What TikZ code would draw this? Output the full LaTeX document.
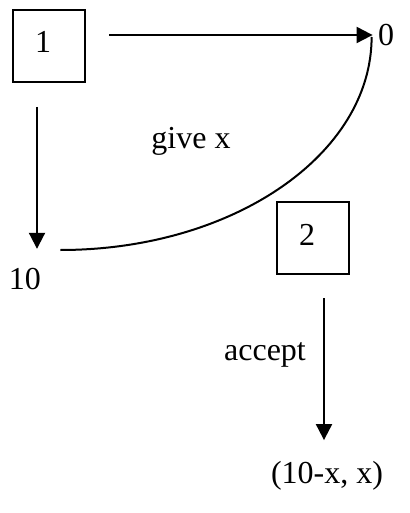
\documentclass[tikz,border=0pt]{standalone}
\usepackage{fontspec}
\setmainfont{Liberation Serif}
\usepackage{tikz}
\usetikzlibrary{arrows.meta,positioning,calc}
\definecolor{ink}{HTML}{000000}
\tikzset{
  >={Triangle[length=8pt,width=8pt]},
  every node/.style={font=\fontsize{16pt}{19pt}\selectfont,text=ink},
  player/.style={draw=ink,line width=1pt,minimum height=36pt,text width=14pt,inner xsep=11pt,inner ysep=0pt,align=left,text height=11pt,text depth=4pt},
  payoff/.style={inner sep=0pt},
  move/.style={inner sep=0pt},
  arrow/.style={->,line width=1pt,draw=ink},
  link/.style={line width=1pt,draw=ink}
}
\begin{document}
\begin{tikzpicture}[x=0.5pt,y=-0.5pt]
  \useasboundingbox (0,0) rectangle (409,513);

  \node[player] (one) at (49,46) {1};
  \node[player] (two) at (313,238) {2};

  \node[payoff] (zero) at (386,35) {0};
  \node[payoff] (ten) at (25,279) {10};
  \node[payoff] (split) at (327,476) {(10-x, x)};

  \node[move] (give) at (191,141) {give x};
  \node[move] (accept) at (265,355) {accept};

  \draw[arrow,shorten <=11.5pt,shorten >=2.5pt] (one.east |- zero) -- (zero.west);
  \draw[arrow] ([xshift=-6pt,yshift=-12pt]one.south) -- ([xshift=6pt,yshift=9.5pt]ten.north);
  \draw[link] ([xshift=-3pt,yshift=-1pt]zero.west) .. controls +(0,117.6) and +(172.3,0) .. ([xshift=9.5pt,yshift=14.5pt]ten.east);
  \draw[arrow] ([xshift=5.5pt,yshift=-11.5pt]two.south) -- ([xshift=-1.5pt,yshift=10.5pt]split.north);
\end{tikzpicture}
\end{document}
